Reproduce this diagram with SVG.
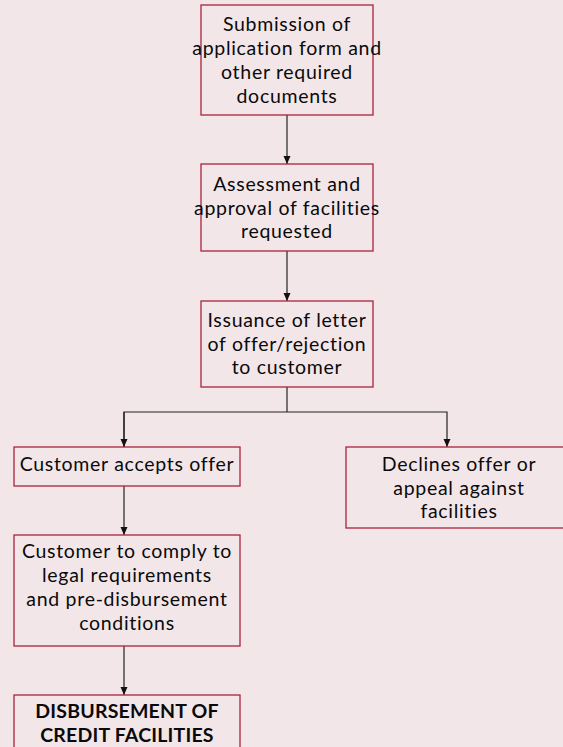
<svg xmlns="http://www.w3.org/2000/svg" width="563" height="747" viewBox="0 0 563 747">
<style>
.box{fill:#f3e6e9;stroke:#a8243c;stroke-width:1.3}
.t{font-family:Lato,"Open Sans",sans-serif;font-size:19.5px;letter-spacing:0.7px;fill:#0a0a0a;text-anchor:middle}
.b{font-weight:bold;letter-spacing:0.2px}
.c{fill:none;stroke:#222;stroke-width:1.2}
</style>
<defs>
<marker id="ah" viewBox="0 0 8 8" refX="8" refY="4" markerWidth="8" markerHeight="8" markerUnits="userSpaceOnUse" orient="auto">
<path d="M0,0.5 L8,4 L0,7.5 Z" fill="#111"/>
</marker>
</defs>
<rect width="563" height="747" fill="#f3e6e9"/>
<g id="connectors">
<line class="c" x1="287" y1="115" x2="287" y2="164" marker-end="url(#ah)"/>
<line class="c" x1="287" y1="251" x2="287" y2="301" marker-end="url(#ah)"/>
<polyline class="c" points="287,387 287,412"/>
<polyline class="c" points="124,447 124,412 447,412 447,447" marker-end="url(#ah)"/>
<line class="c" x1="124" y1="412" x2="124" y2="447" marker-end="url(#ah)"/>
<line class="c" x1="124" y1="486" x2="124" y2="535" marker-end="url(#ah)"/>
<line class="c" x1="124" y1="646" x2="124" y2="695" marker-end="url(#ah)"/>
</g>
<g id="n1"><rect class="box" x="201" y="5" width="172" height="110"/>
<text class="t" x="287" y="31">Submission of</text>
<text class="t" x="287" y="55">application form and</text>
<text class="t" x="287" y="79">other required</text>
<text class="t" x="287" y="103">documents</text></g>
<g id="n2"><rect class="box" x="201" y="164" width="172" height="87"/>
<text class="t" x="287" y="191">Assessment and</text>
<text class="t" x="287" y="215">approval of facilities</text>
<text class="t" x="287" y="238">requested</text></g>
<g id="n3"><rect class="box" x="201" y="301" width="172" height="86"/>
<text class="t" x="287" y="327">Issuance of letter</text>
<text class="t" x="287" y="351">of offer/rejection</text>
<text class="t" x="287" y="374">to customer</text></g>
<g id="n4"><rect class="box" x="14" y="447" width="226" height="39"/>
<text class="t" x="127" y="471">Customer accepts offer</text></g>
<g id="n5"><rect class="box" x="346" y="447" width="226" height="81"/>
<text class="t" x="459" y="471">Declines offer or</text>
<text class="t" x="459" y="495">appeal against</text>
<text class="t" x="459" y="518">facilities</text></g>
<g id="n6"><rect class="box" x="14" y="535" width="226" height="111"/>
<text class="t" x="127" y="558">Customer to comply to</text>
<text class="t" x="127" y="582">legal requirements</text>
<text class="t" x="127" y="606">and pre-disbursement</text>
<text class="t" x="127" y="630">conditions</text></g>
<g id="n7"><rect class="box" x="14" y="695" width="226" height="70"/>
<text class="t b" x="127" y="718">DISBURSEMENT OF</text>
<text class="t b" x="127" y="742">CREDIT FACILITIES</text></g>
</svg>
